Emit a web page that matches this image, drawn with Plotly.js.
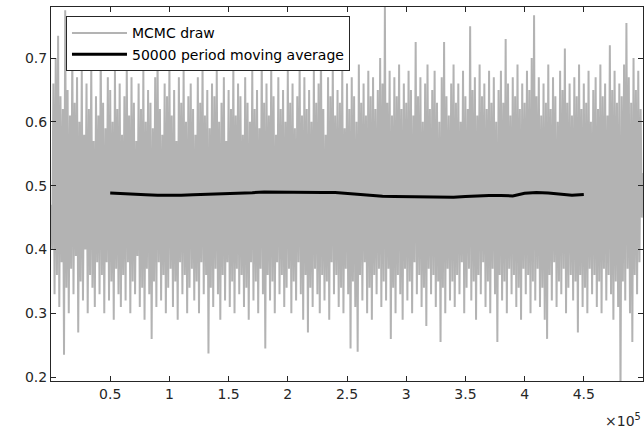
<!DOCTYPE html>
<html>
<head>
<meta charset="utf-8">
<script src="https://cdn.plot.ly/plotly-3.0.1.min.js"></script>
<style>
  html, body { margin: 0; padding: 0; background: #ffffff; }
  #chart { width: 644px; height: 432px; }
</style>
</head>
<body>
<div id="chart"></div>
<script>
// Sampler output, recorded every 1000 iterations (0 .. 500000)
const drawStep = 1000;
const mcmcDraws = [
  0.47,0.40,0.66,0.33,0.70,0.36,0.735,0.31,0.64,0.38,0.62,0.235,0.775,0.34,0.65,0.30,0.61,0.37,0.71,0.33,
  0.63,0.39,0.67,0.27,0.60,0.35,0.68,0.32,0.58,0.40,0.66,0.30,0.62,0.36,0.69,0.34,0.57,0.31,0.64,0.38,
  0.61,0.33,0.715,0.36,0.63,0.30,0.59,0.38,0.67,0.32,0.65,0.35,0.60,0.29,0.68,0.37,0.62,0.33,0.66,0.31,
  0.58,0.36,0.64,0.32,0.69,0.38,0.61,0.30,0.67,0.35,0.63,0.33,0.57,0.39,0.66,0.31,0.62,0.34,0.68,0.29,
  0.60,0.37,0.65,0.33,0.63,0.26,0.59,0.35,0.67,0.31,0.705,0.38,0.62,0.32,0.58,0.36,0.66,0.30,0.64,0.34,
  0.69,0.37,0.61,0.31,0.65,0.35,0.57,0.29,0.67,0.38,0.63,0.33,0.68,0.36,0.60,0.30,0.64,0.34,0.66,0.37,
  0.62,0.32,0.58,0.35,0.67,0.30,0.63,0.38,0.69,0.33,0.61,0.36,0.65,0.237,0.59,0.34,0.66,0.31,0.64,0.37,
  0.68,0.33,0.60,0.29,0.63,0.36,0.67,0.32,0.57,0.38,0.65,0.31,0.62,0.35,0.69,0.30,0.61,0.37,0.66,0.33,
  0.64,0.36,0.58,0.31,0.67,0.34,0.63,0.29,0.60,0.38,0.68,0.32,0.62,0.35,0.65,0.30,0.59,0.37,0.705,0.33,
  0.63,0.245,0.66,0.36,0.61,0.32,0.69,0.35,0.64,0.30,0.58,0.38,0.67,0.33,0.62,0.36,0.65,0.31,0.60,0.34,
  0.68,0.37,0.63,0.30,0.66,0.35,0.59,0.32,0.64,0.38,0.69,0.33,0.61,0.29,0.67,0.36,0.62,0.27,0.65,0.34,
  0.60,0.31,0.68,0.37,0.63,0.33,0.66,0.30,0.72,0.36,0.62,0.32,0.58,0.35,0.67,0.29,0.64,0.38,0.69,0.33,
  0.61,0.36,0.65,0.31,0.63,0.34,0.68,0.30,0.59,0.37,0.66,0.33,0.62,0.245,0.67,0.35,0.64,0.31,0.60,0.24,
  0.69,0.36,0.63,0.32,0.66,0.38,0.61,0.30,0.68,0.34,0.64,0.29,0.67,0.36,0.62,0.33,0.65,0.37,0.70,0.31,
  0.66,0.35,0.78,0.32,0.63,0.37,0.68,0.26,0.61,0.34,0.67,0.30,0.64,0.36,0.69,0.33,0.62,0.29,0.66,0.37,
  0.63,0.32,0.68,0.35,0.65,0.30,0.61,0.38,0.725,0.33,0.64,0.36,0.67,0.31,0.60,0.34,0.66,0.28,0.69,0.37,
  0.62,0.33,0.65,0.36,0.68,0.31,0.63,0.35,0.60,0.255,0.67,0.34,0.725,0.30,0.64,0.37,0.61,0.32,0.66,0.35,
  0.69,0.31,0.63,0.36,0.66,0.33,0.60,0.38,0.68,0.30,0.64,0.34,0.62,0.37,0.75,0.32,0.65,0.35,0.67,0.29,
  0.61,0.36,0.69,0.33,0.64,0.38,0.66,0.31,0.62,0.35,0.68,0.30,0.63,0.37,0.67,0.33,0.60,0.255,0.65,0.36,
  0.68,0.32,0.63,0.35,0.73,0.30,0.66,0.37,0.61,0.33,0.67,0.36,0.64,0.31,0.69,0.34,0.62,0.29,0.66,0.37,
  0.63,0.33,0.68,0.36,0.65,0.30,0.70,0.35,0.767,0.32,0.64,0.37,0.67,0.31,0.61,0.34,0.66,0.29,0.63,0.26,
  0.69,0.36,0.62,0.32,0.67,0.38,0.64,0.31,0.60,0.35,0.68,0.33,0.65,0.37,0.715,0.30,0.63,0.34,0.66,0.36,
  0.61,0.32,0.67,0.35,0.64,0.27,0.69,0.36,0.62,0.31,0.66,0.34,0.63,0.30,0.68,0.37,0.60,0.33,0.65,0.36,
  0.67,0.31,0.62,0.35,0.69,0.30,0.64,0.37,0.66,0.32,0.61,0.36,0.72,0.33,0.65,0.29,0.68,0.35,0.63,0.31,
  0.66,0.17,0.64,0.35,0.69,0.32,0.755,0.37,0.67,0.30,0.63,0.255,0.70,0.36,0.65,0.33,0.68,0.38,0.62,0.45,
  0.52
];

// 50000-period moving average, reported every 10000 iterations from 50000 to 450000
const maStart = 50000;
const maStep = 10000;
const movingAverage = [
  0.4886,0.4880,0.4872,0.4858,0.4850,0.4848,0.4852,0.4858,0.4862,0.4870,
  0.4878,0.4882,0.4890,0.4902,0.4898,0.4895,0.4892,0.4890,0.4892,0.4895,
  0.4880,0.4862,0.4842,0.4835,0.4832,0.4830,0.4825,0.4828,0.4823,0.4820,
  0.4832,0.4842,0.4848,0.4846,0.4840,0.4880,0.4895,0.4885,0.4868,0.4850,
  0.4864
];

// Axis ticks
const xTickVals = [50000,100000,150000,200000,250000,300000,350000,400000,450000,500000];
const xTickText = ['0.5','1','1.5','2','2.5','3','3.5','4','4.5','5'];
const yTickVals = [0.2,0.3,0.4,0.5,0.6,0.7];
const yTickText = ['0.2','0.3','0.4','0.5','0.6','0.7'];

const drawX = mcmcDraws.map((_, i) => i * drawStep);
const maX = movingAverage.map((_, i) => maStart + i * maStep);

const axisColor = '#262626';
const fontFamily = '"DejaVu Sans", "Liberation Sans", Arial, sans-serif';

const traces = [
  {
    x: drawX, y: mcmcDraws, type: 'scatter', mode: 'lines',
    name: 'MCMC draw',
    line: { color: 'rgb(179,179,179)', width: 2 }
  },
  {
    x: maX, y: movingAverage, type: 'scatter', mode: 'lines',
    name: '50000 period moving average',
    line: { color: '#000000', width: 3 }
  }
];

const axisCommon = {
  showgrid: false, zeroline: false,
  showline: true, linecolor: axisColor, linewidth: 1,
  mirror: 'ticks', ticks: 'inside', ticklen: 5, tickwidth: 1, tickcolor: axisColor,
  tickfont: { family: fontFamily, size: 14, color: axisColor }
};

const layout = {
  width: 644, height: 432,
  margin: { l: 51, r: 1, t: 7, b: 51 },
  paper_bgcolor: '#ffffff', plot_bgcolor: '#ffffff',
  showlegend: true,
  xaxis: Object.assign({}, axisCommon, {
    range: [0, 500000], tickmode: 'array', tickvals: xTickVals, ticktext: xTickText
  }),
  yaxis: Object.assign({}, axisCommon, {
    range: [0.194, 0.78], tickmode: 'array', tickvals: yTickVals, ticktext: yTickText
  }),
  legend: {
    x: 0.0253, y: 0.975, xanchor: 'left', yanchor: 'top',
    bgcolor: '#ffffff', bordercolor: axisColor, borderwidth: 1,
    font: { family: fontFamily, size: 14, color: '#000000' },
    itemwidth: 55
  },
  annotations: [{
    xref: 'paper', yref: 'paper', x: 1, y: -0.105, xanchor: 'right', yanchor: 'middle',
    text: '×10<sup>5</sup>', showarrow: false,
    font: { family: fontFamily, size: 14, color: axisColor }
  }]
};

Plotly.newPlot('chart', traces, layout, { displayModeBar: false, staticPlot: true });
</script>
</body>
</html>
